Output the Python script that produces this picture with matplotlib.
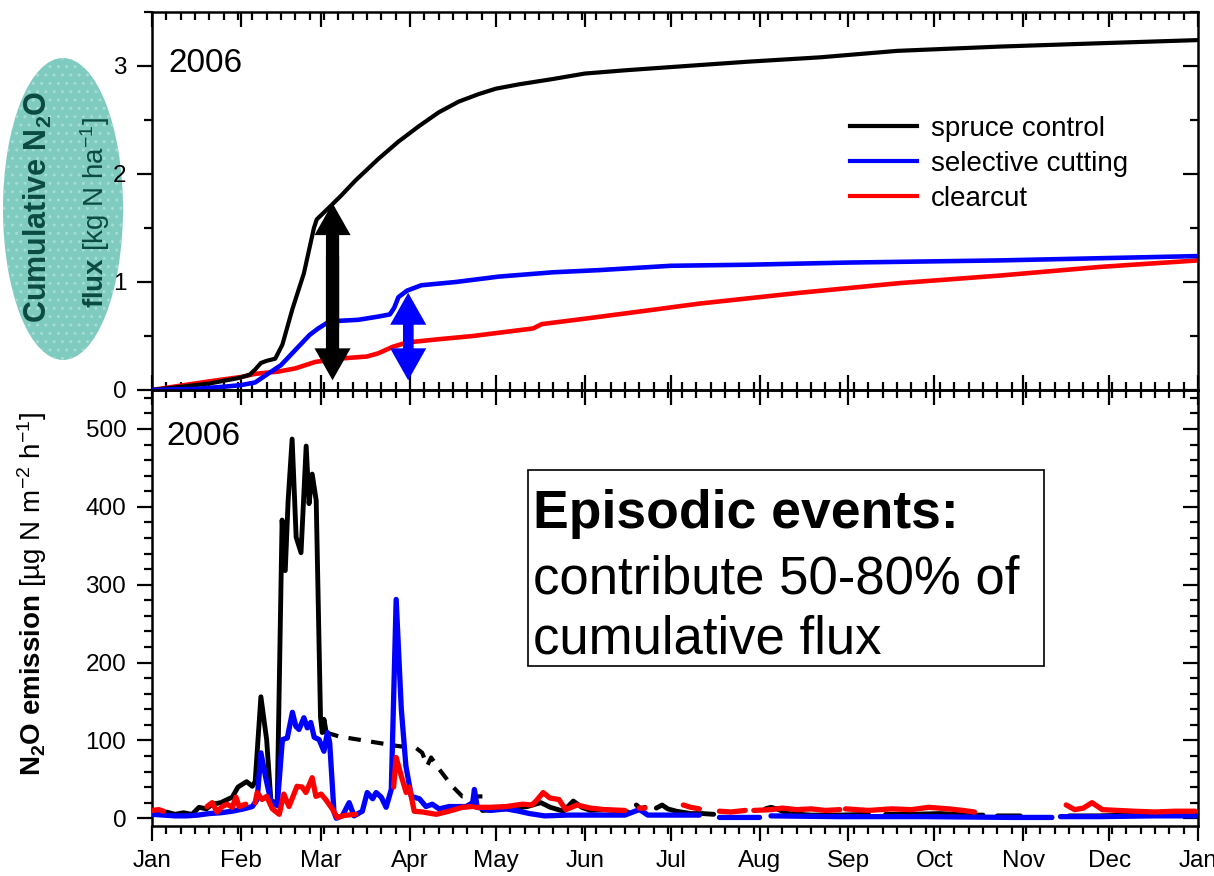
import numpy as np
import matplotlib
matplotlib.use('Agg')
import matplotlib.pyplot as plt
from matplotlib.patches import Ellipse, FancyArrowPatch, Rectangle
from matplotlib.ticker import FixedLocator, MultipleLocator

plt.rcParams['font.family'] = ['Liberation Sans', 'DejaVu Sans']
plt.rcParams['mathtext.fontset'] = 'custom'
plt.rcParams['mathtext.rm'] = 'Liberation Sans'
plt.rcParams['mathtext.bf'] = 'Liberation Sans:bold'
plt.rcParams['mathtext.it'] = 'Liberation Sans:italic'

nan = np.nan

# month labels, day of year of month start
months = ['Jan', 'Feb', 'Mar', 'Apr', 'May', 'Jun', 'Jul', 'Aug', 'Sep', 'Oct', 'Nov', 'Dec', 'Jan']
month_days = [0, 31, 59, 90, 120, 151, 181, 212, 243, 273, 304, 334, 365]

# --- cumulative N2O flux [kg N/ha] ---
cum_spruce_day = [0, 10, 20, 30, 34, 36, 38, 40, 43, 45.5, 49, 53, 56.5, 57.5, 61.8, 66, 71, 79, 86,
                  93, 100, 107, 114, 120, 128, 140, 151, 165, 181, 208, 233, 260, 296, 330, 365]
cum_spruce = [0, 0.03, 0.06, 0.11, 0.14, 0.19, 0.25, 0.27, 0.29, 0.42, 0.75, 1.08, 1.5, 1.58, 1.69, 1.8,
              1.94, 2.14, 2.30, 2.44, 2.57, 2.67, 2.74, 2.79, 2.83, 2.88, 2.93, 2.96, 2.99, 3.04, 3.08,
              3.14, 3.18, 3.21, 3.24]
cum_select_day = [0, 15, 25, 31, 36, 41, 45, 50, 55, 58, 61, 65, 72, 79, 83, 84.5, 86, 89, 94, 106,
                  121, 140, 156, 181, 208, 243, 296, 365]
cum_select = [0, 0.01, 0.03, 0.045, 0.07, 0.16, 0.23, 0.37, 0.51, 0.57, 0.62, 0.64, 0.65, 0.68, 0.70,
              0.76, 0.86, 0.92, 0.97, 1.0, 1.05, 1.09, 1.11, 1.15, 1.16, 1.18, 1.2, 1.24]
cum_clear_day = [0, 10, 20, 31, 36, 44, 50, 57, 65, 75, 79, 84, 89, 100, 112, 121, 133, 136, 142, 151,
                 174, 191, 226, 261, 296, 331, 365]
cum_clear = [0, 0.04, 0.08, 0.12, 0.15, 0.17, 0.2, 0.26, 0.29, 0.31, 0.34, 0.40, 0.44, 0.47, 0.5, 0.53,
             0.57, 0.61, 0.63, 0.66, 0.74, 0.8, 0.9, 0.99, 1.06, 1.14, 1.2]

# --- N2O emission [ug N m-2 h-1] ---
em_spruce_day = [0, 3, 5, 8, 11, 14, 16.4, 19, 21, 24, 28, 30, 33, 35, 36, 38, 40, 41.5, 43.7, 45.4,
                 46.5, 47.5, 48.9, 50.3, 52, 53.8, 54.8, 55.9, 57.3, 58.8, 59.4, 60, 60.8, nan,
                 115.3, 120, 127, 131, 135.7, 139, 143.6, 147, 150, 153, 158, 164, 166, nan,
                 169, 170.5, 172, nan, 176, 178, 180, 183, 188, 192, 196, nan,
                 214, 216, 218, 222, 230, 240, 250, nan, 256, 265, 275, 285, 290, nan,
                 295, 303, nan, 309, 310, nan, 313, 314, nan, 320, 330, 340, 350, 364]
em_spruce = [8, 6, 8, 5, 7, 5, 14, 12, 18, 20, 27, 40, 47, 41, 47, 156, 101, 22, 20, 383,
             318, 408, 487, 361, 341, 478, 404, 442, 408, 130, 110, 127, 110, nan,
             10, 11, 13, 15, 20, 14, 9, 22, 14, 10, 11, 9, 8, nan,
             17, 12, 14, nan, 13, 17, 12, 9, 6, 6, 5, nan,
             12, 14, 12, 6, 4, 4, 5, nan, 5, 5, 6, 4, 4, nan,
             3, 3, nan, 1, 1, nan, 1, 1, nan, 3, 3, 4, 4, 4]
# gap-filled part of the spruce control series (dashed)
gap_spruce_day = [60.8, 65.3, 85.2, 92.2, 94.3, 96, 97.4, 100.2, 104.8, 108.3, 115.3]
gap_spruce = [110, 105, 93, 90, 84, 67, 78, 63, 41, 28, 28]

em_select_day = [0, 4, 8, 12, 16, 20, 24, 28, 32, 35, 36.7, 38, 39.8, 41.5, 43.7, 45.5, 47.2, 49,
                 50.2, 51.3, 53, 54.2, 55.4, 56.6, 58.3, 60, 61.2, 62, 63.5, 64.3, 66.4, 68.8, 70.5,
                 73.4, 75.1, 77, 78.2, 80, 81.7, 83.5, 85.2, 87, 88.6, 90.5, 93.3, 95.6, 97.8, 100.2,
                 103.7, 109.6, 111.9, 112.5, 113.5, 118, 123.6, 128, 131.7, 137, 145, 155, 165, 170,
                 171, 173, 180, 191, nan, 198, 205, 212, nan, 216, 240, 270, 300, 314, nan,
                 317, 330, 350, 364]
em_select = [5, 4, 3, 3, 4, 6, 7, 9, 12, 15, 24, 84, 50, 22, 16, 101, 103, 136,
             118, 114, 129, 116, 123, 104, 101, 86, 110, 97, 8, 0, 3, 20, 3,
             9, 33, 25, 33, 27, 14, 37, 281, 140, 67, 28, 25, 15, 18, 12,
             15, 15, 20, 37, 14, 10, 12, 9, 6, 3, 4, 4, 4, 11,
             9, 4, 4, 4, nan, 1, 1, 1, nan, 3, 2, 2, 1, 1, nan,
             2, 2, 3, 3]

em_clear_day = [0, 2.4, 4, nan, 19.2, 21, 22.7, 24.5, 26.2, 28, 29.3, 30.4, 32.7, nan,
                36, 36.7, 38.4, 40, 42, 44.4, 46, 47.8, 50.6, 52.4, 53.7, 55.9, 57.2, 59, 60.6, 62.9,
                64.6, 66.4, 68, 71.1, nan,
                84.3, 85.2, 87, 88.7, 89.8, 91.5, 94.3, 99.2, 103.7, 108.3, 111.8, nan,
                113, 118, 123.6, 129.3, 132.5, 134, 136.5, 138.8, 142, 144.4, 148.3, 153, 158, 165, nan,
                170, 172, nan, 185.4, 188, 191, nan, 198, 202, 207, nan,
                210, 216, 220, 225, 230, 235, 240, nan,
                242, 250, 258, 265, 271, 278, 283, 287, nan,
                319, 322, 325, 328, 331.6, 337, 342.6, 350, 357, 364]
em_clear = [10, 11, 9, nan, 15, 20, 8, 15, 18, 14, 27, 15, 18, nan,
            20, 33, 24, 28, 12, 5, 31, 15, 41, 40, 33, 52, 28, 31, 24, 12,
            1, 3, 4, 5, nan,
            40, 78, 54, 33, 40, 9, 8, 5, 9, 14, 15, nan,
            14, 14, 15, 18, 17, 22, 33, 26, 24, 11, 17, 13, 11, 10, nan,
            13, 13, nan, 17, 14, 12, nan, 9, 8, 10, nan,
            10, 11, 13, 11, 12, 10, 11, nan,
            12, 10, 12, 11, 14, 12, 10, 8, nan,
            17, 11, 13, 20, 11, 10, 9, 8, 9, 9]

W, H = 1214, 876
fig = plt.figure(figsize=(W / 100, H / 100), dpi=100)

def px_box(x0, y0, x1, y1):
    return [x0 / W, 1 - y1 / H, (x1 - x0) / W, (y1 - y0) / H]

ax1 = fig.add_axes(px_box(152, 12, 1198, 390))
ax2 = fig.add_axes(px_box(152, 390, 1198, 826))
ax1.patch.set_alpha(0)
ax2.patch.set_alpha(0)

# top panel
ax1.plot(cum_spruce_day, cum_spruce, color='black', lw=3, label='spruce control', zorder=3)
ax1.plot(cum_select_day, cum_select, color='#0000ff', lw=3.3, label='selective cutting', zorder=3)
ax1.plot(cum_clear_day, cum_clear, color='#ff0000', lw=3.3, label='clearcut', zorder=2)

# double arrows (difference between treatments); each half starts past the middle so they overlap
def double_arrow(ax, x, y0, y1, color, tail, hw, hl):
    d = (y1 - y0) * 0.2
    ym = (y0 + y1) / 2
    for start, yt in ((ym + d, y0), (ym - d, y1)):
        a = FancyArrowPatch((x, start), (x, yt),
                            arrowstyle='simple,head_length=%g,head_width=%g,tail_width=%g' % (hl, hw, tail),
                            mutation_scale=1, color=color, lw=0, shrinkA=0, shrinkB=0, zorder=4)
        ax.add_patch(a)

double_arrow(ax1, 63, 0.09, 1.73, 'black', 9.5, 26, 23)
double_arrow(ax1, 89.4, 0.09, 0.9, '#0000ff', 7.5, 26, 23)

leg = ax1.legend(loc='upper left', bbox_to_anchor=(850 / W, 1 - 116 / H), bbox_transform=fig.transFigure,
                 frameon=False, fontsize=20, handlelength=2.4, handletextpad=0.5, labelspacing=0.32,
                 borderpad=0, borderaxespad=0)
for ln in leg.get_lines():
    ln.set_linewidth(3)

ax1.set_ylim(0, 3.5)
ax1.yaxis.set_major_locator(FixedLocator([0, 1, 2, 3]))
ax1.yaxis.set_minor_locator(MultipleLocator(0.5))

# bottom panel
ax2.plot(em_spruce_day, em_spruce, color='black', lw=3.5, solid_capstyle='round', zorder=2)
ax2.plot(gap_spruce_day, gap_spruce, color='black', lw=3, ls=(0, (3, 2.5)), zorder=2)
ax2.plot(em_select_day, em_select, color='#0000ff', lw=3.8, solid_capstyle='round', zorder=3)
ax2.plot(em_clear_day, em_clear, color='#ff0000', lw=3.8, solid_capstyle='round', zorder=4)

ax2.set_ylim(-10, 550)
ax2.yaxis.set_major_locator(FixedLocator([0, 100, 200, 300, 400, 500]))
ax2.yaxis.set_minor_locator(MultipleLocator(20))

for ax in (ax1, ax2):
    ax.set_xlim(0, 365)
    ax.xaxis.set_major_locator(FixedLocator(month_days))
    ax.xaxis.set_minor_locator(MultipleLocator(5))
    for s in ax.spines.values():
        s.set_linewidth(1.8)
    ax.tick_params(axis='both', which='both', width=1.6, labelsize=17.5)
    ax.tick_params(axis='both', which='major', length=10.5)
    ax.tick_params(axis='both', which='minor', length=5.5)
    ax.tick_params(axis='y', which='both', left=True, right=True, direction='out', pad=8)

ax2.set_xticklabels(months)
ax2.tick_params(axis='x', which='both', direction='out', top=True, bottom=True, labelbottom=True, pad=7)
ax1.tick_params(axis='x', which='both', direction='in', top=True, bottom=True, labelbottom=False)
# mirrored right ticks point inward, top ticks of lower panel point inward
for ax in (ax1, ax2):
    for t in ax.yaxis.get_major_ticks() + ax.yaxis.get_minor_ticks():
        t.tick2line.set_marker(matplotlib.lines.TICKLEFT)
for t in ax2.xaxis.get_major_ticks() + ax2.xaxis.get_minor_ticks():
    t.tick2line.set_marker(matplotlib.lines.TICKDOWN)

fig.text(168 / W, 1 - 48 / H, '2006', fontsize=24, va='top')
fig.text(166 / W, 1 - 421 / H, '2006', fontsize=24, va='top')

# box text
ax2.add_patch(Rectangle((528 / W, 1 - 666 / H), (1044 - 528) / W, (666 - 470) / H, transform=fig.transFigure,
                        fill=False, ec='black', lw=1.2, zorder=5))
fig.text(533 / W, 1 - 489 / H, 'Episodic events:', fontsize=38.5, fontweight='bold', va='top')
fig.text(533 / W, 1 - 554 / H, 'contribute 50-80% of\ncumulative flux', fontsize=38, va='top',
         linespacing=1.27)

# y labels (ellipse sits behind the axes so the tick labels stay on top)
fig.patches.append(Ellipse((63 / W, 1 - 209 / H), 120 / W, 302 / H, transform=fig.transFigure,
                           facecolor='#7fcbc0', edgecolor='#a6dcd3', lw=0, hatch='..', zorder=-1))
teal_txt = '#0b4a40'
fig.text(38 / W, 1 - 207 / H, r'$\mathbf{Cumulative\ N_2O}$', rotation=90, fontsize=22,
         ha='center', va='center', color=teal_txt)
fig.text(95 / W, 1 - 212 / H, r'$\mathbf{flux}\ \mathrm{[kg\ N\ ha^{-1}]}$', rotation=90, fontsize=20,
         ha='center', va='center', color=teal_txt)
fig.text(32 / W, 1 - 594 / H, r'$\mathbf{N_2O\ emission}\ \mathrm{[µg\ N\ m^{-2}\ h^{-1}]}$', rotation=90,
         fontsize=20, ha='center', va='center')

fig.savefig('out.png', dpi=100)
